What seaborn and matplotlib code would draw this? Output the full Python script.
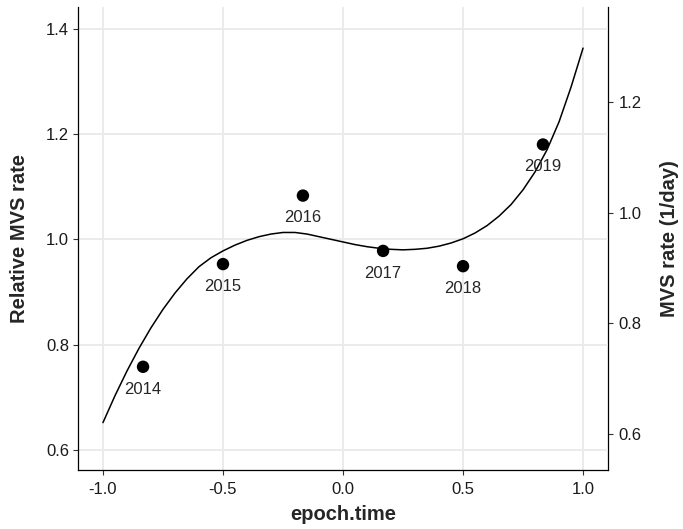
import matplotlib
matplotlib.use("Agg")
import matplotlib.pyplot as plt
import seaborn as sns
import pandas as pd
from matplotlib.ticker import FormatStrFormatter

# observed points (one per year)
years = [2014, 2015, 2016, 2017, 2018, 2019]
epoch_time = [-0.833, -0.5, -0.167, 0.167, 0.5, 0.833]
rel_rate = [0.758, 0.953, 1.083, 0.978, 0.949, 1.180]

# fitted curve
curve_x = [-1.00, -0.95, -0.90, -0.85, -0.80, -0.75, -0.70, -0.65, -0.60, -0.55,
           -0.50, -0.45, -0.40, -0.35, -0.30, -0.25, -0.20, -0.15, -0.10, -0.05,
           0.00, 0.05, 0.10, 0.15, 0.20, 0.25, 0.30, 0.35, 0.40, 0.45,
           0.50, 0.55, 0.60, 0.65, 0.70, 0.75, 0.80, 0.85, 0.90, 0.95, 1.00]
curve_rel = [0.652, 0.703, 0.750, 0.793, 0.832, 0.867, 0.898, 0.925, 0.948, 0.965,
             0.978, 0.989, 0.998, 1.005, 1.010, 1.013, 1.013, 1.010, 1.005, 1.000,
             0.995, 0.990, 0.986, 0.983, 0.981, 0.980, 0.981, 0.983, 0.987, 0.993,
             1.001, 1.012, 1.026, 1.044, 1.066, 1.094, 1.128, 1.170, 1.223, 1.289, 1.363]

x_ticks = [-1.0, -0.5, 0.0, 0.5, 1.0]
y_ticks = [0.6, 0.8, 1.0, 1.2, 1.4]
sec_ticks = [0.6, 0.8, 1.0, 1.2]
scale = 0.952  # MVS rate = scale * relative rate

points = pd.DataFrame({"epoch.time": epoch_time, "rel": rel_rate, "year": years})
curve = pd.DataFrame({"epoch.time": curve_x, "rel": curve_rel})

sns.set_theme(style="whitegrid")
plt.rcParams["font.family"] = ["Liberation Sans", "DejaVu Sans"]
plt.rcParams["axes.unicode_minus"] = False

fig = plt.figure(figsize=(6.83, 5.29), dpi=100)
ax = fig.add_axes([0.1142, 0.1115, 0.776, 0.8752])

sns.lineplot(data=curve, x="epoch.time", y="rel", ax=ax, color="black",
             linewidth=1.1, solid_joinstyle="round")
sns.scatterplot(data=points, x="epoch.time", y="rel", ax=ax, color="black",
                s=80, edgecolor="none", zorder=3)
for x, y, yr in zip(epoch_time, rel_rate, years):
    ax.annotate(str(yr), (x, y), xytext=(0, -16), textcoords="offset points",
                ha="center", va="center", fontsize=12)

ax.set_xlim(-1.104, 1.104)
ax.set_ylim(0.562, 1.441)
ax.set_xticks(x_ticks)
ax.set_yticks(y_ticks)
ax.xaxis.set_major_formatter(FormatStrFormatter("%.1f"))
ax.yaxis.set_major_formatter(FormatStrFormatter("%.1f"))
ax.grid(True, color="#EBEBEB", linewidth=1.4)
ax.set_facecolor("white")

for side in ["top", "right"]:
    ax.spines[side].set_visible(False)
for side in ["left", "bottom"]:
    ax.spines[side].set_color("black")
    ax.spines[side].set_linewidth(0.9)

ax.tick_params(axis="both", which="major", length=3.5, width=0.8, color="#333333",
               labelsize=12, labelcolor="#1a1a1a", pad=3, bottom=True, left=True)
ax.tick_params(axis="x", pad=5)
ax.set_xlabel("epoch.time", fontsize=14.5, fontweight="bold", labelpad=6)
ax.set_ylabel("Relative MVS rate", fontsize=14.5, fontweight="bold", labelpad=12)

sec = ax.secondary_yaxis("right", functions=(lambda v: v * scale, lambda v: v / scale))
sec.set_yticks(sec_ticks)
sec.yaxis.set_major_formatter(FormatStrFormatter("%.1f"))
sec.spines["right"].set_color("black")
sec.spines["right"].set_linewidth(0.9)
sec.tick_params(axis="y", length=3.5, width=0.8, color="#333333",
                labelsize=12, labelcolor="#1a1a1a", pad=4)
sec.set_ylabel("MVS rate (1/day)", fontsize=14.5, fontweight="bold",
               rotation=90, labelpad=13)

fig.savefig("out.png", dpi=100)
